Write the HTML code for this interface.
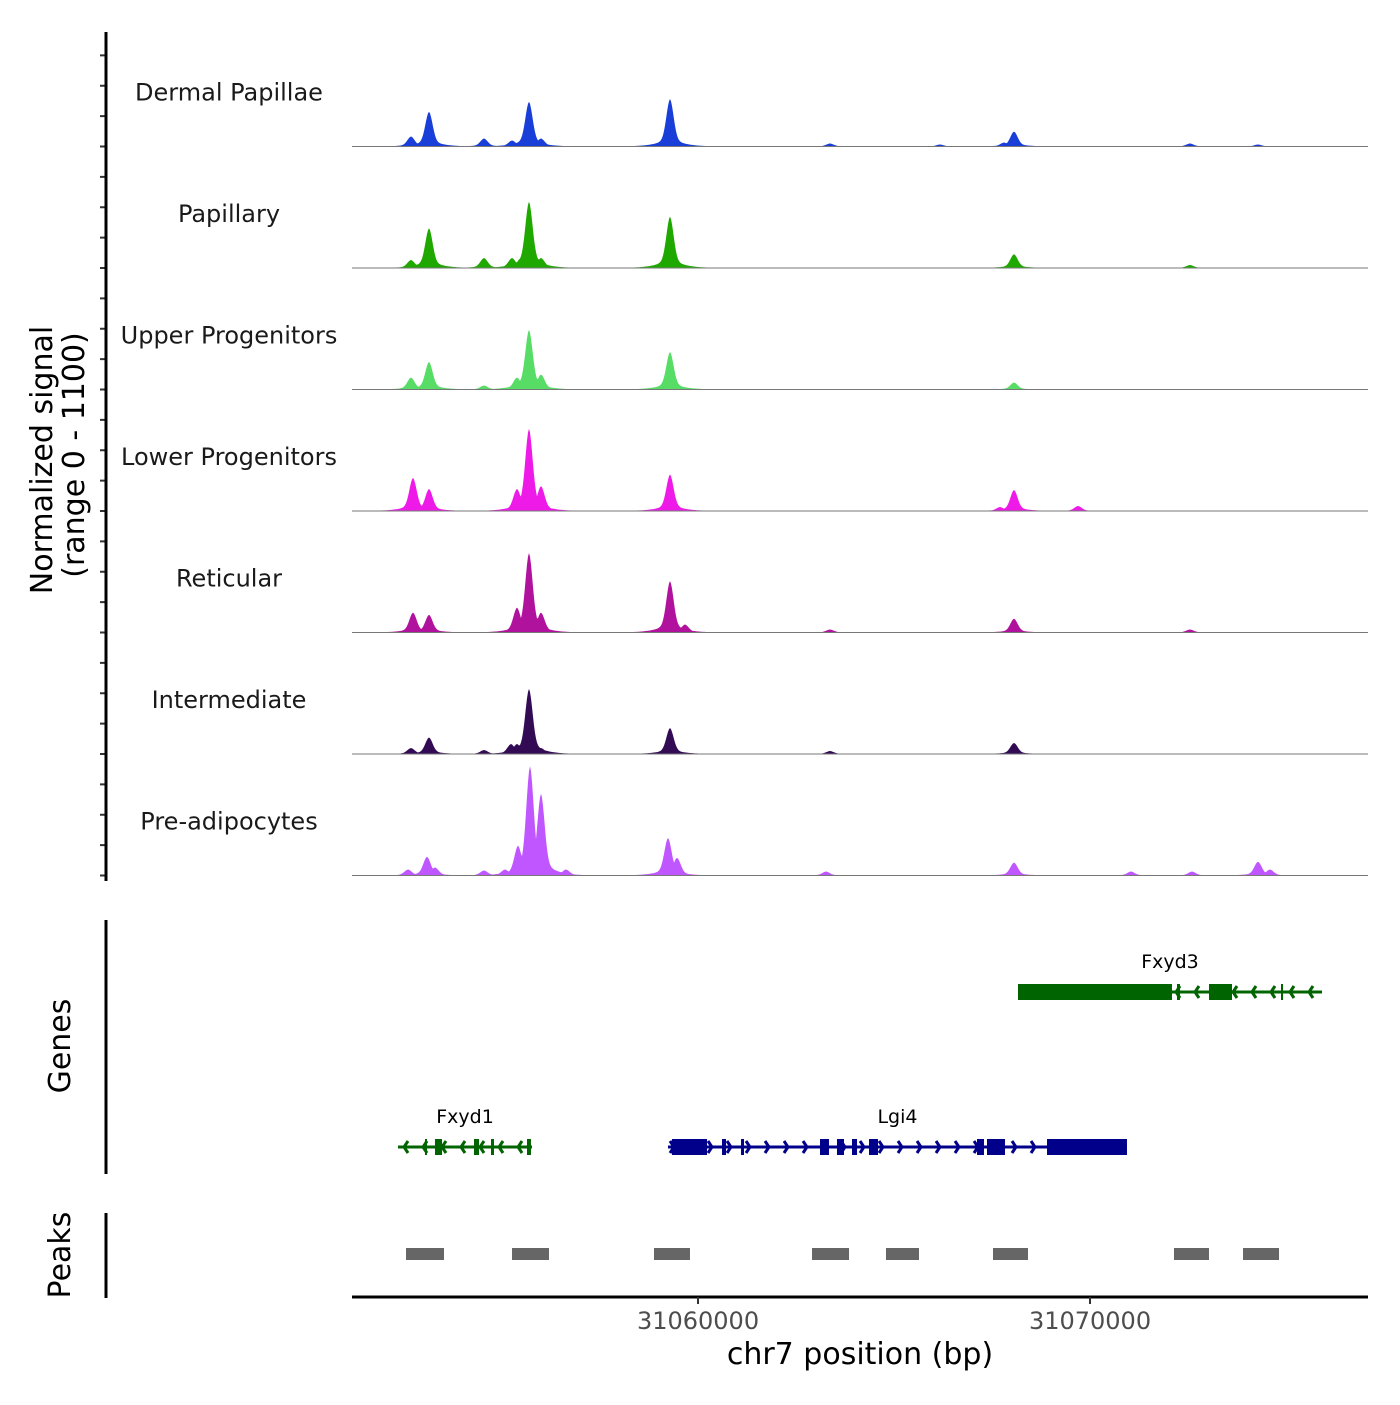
<!DOCTYPE html>
<html><head><meta charset="utf-8"><style>
body{margin:0;background:#fff}
svg text{font-family:"DejaVu Sans","Liberation Sans",sans-serif}
</style></head><body>
<svg id="c" width="1400" height="1400" xmlns="http://www.w3.org/2000/svg">
<rect width="1400" height="1400" fill="#fff"/>
<g id="tracks"></g>
<g id="genes"></g>
<g id="peaks"></g>
<g id="axes"></g>
</svg>
<script>
const trackNames=["Dermal Papillae","Papillary","Upper Progenitors","Lower Progenitors","Reticular","Intermediate","Pre-adipocytes"];
const trackColors=["#1a3fd8","#1fa800","#57dc66","#ee1ae8","#b0129e","#330b55","#c056ff"];
// peaks per track: [position bp, signal value]
const dpPeaks=[[31052678,90],[31053137,315],[31054540,72],[31055255,54],[31055688,405],[31055994,72],[31059285,430],[31063367,27],[31066172,18],[31067806,36],[31068061,135],[31072550,27],[31074285,18]];
const papPeaks=[[31052678,72],[31053137,360],[31054540,90],[31055255,90],[31055484,90],[31055688,600],[31055994,90],[31059285,465],[31068061,125],[31072550,27]];
const upPeaks=[[31052678,108],[31053137,250],[31054540,36],[31055382,108],[31055688,540],[31055994,135],[31059285,340],[31068061,63]];
const lowPeaks=[[31052729,300],[31053137,200],[31055382,200],[31055688,745],[31055994,225],[31059285,330],[31067703,36],[31068061,190],[31069693,45]];
const retPeaks=[[31052729,180],[31053137,160],[31055382,225],[31055688,720],[31055994,180],[31059285,465],[31059668,72],[31063367,27],[31068061,125],[31072550,27]];
const intPeaks=[[31052678,54],[31053137,150],[31054540,36],[31055229,90],[31055382,90],[31055688,590],[31055994,54],[31059285,235],[31063367,27],[31068061,100]];
const prePeaks=[[31052602,54],[31053086,170],[31053290,72],[31054540,45],[31055076,54],[31055408,270],[31055714,990],[31055994,740],[31056632,54],[31059234,340],[31059464,160],[31063265,36],[31068061,117],[31071045,36],[31072601,36],[31074285,125],[31074591,54]];
const allPeaks=[dpPeaks,papPeaks,upPeaks,lowPeaks,retPeaks,intPeaks,prePeaks];
const xTicks=[31060000,31070000];
const genes=[
 {name:"Fxyd1",strand:-1,start:31052347,end:31055765,row:1,color:"#006400",exons:[[31053035,31053086],[31053290,31053469],[31054285,31054413],[31054719,31054795],[31055637,31055739]]},
 {name:"Lgi4",strand:1,start:31059234,end:31070943,row:1,color:"#00008b",exons:[[31059336,31060229],[31060612,31060714],[31061097,31061173],[31063112,31063341],[31063545,31063724],[31063928,31064056],[31064362,31064591],[31067117,31067295],[31067372,31067831],[31068903,31070943]]},
 {name:"Fxyd3",strand:-1,start:31068163,end:31075918,row:0,color:"#006400",exons:[[31068163,31072091],[31072218,31072295],[31073035,31073622],[31074872,31074922]]}
];
const peakRegions=[[31052551,31053520],[31055255,31056198],[31058877,31059795],[31062908,31063852],[31064795,31065637],[31067525,31068418],[31072142,31073035],[31073903,31074821]];

const NS="http://www.w3.org/2000/svg";
const X0=352,X1=1368,BP0=31051173,PXBP=0.0392;
const sx=bp=>X0+(bp-BP0)*PXBP;
const TH=121.5, base0=146.5, YMAX=1100;
function mk(tag,attrs,parent,txt){const e=document.createElementNS(NS,tag);for(const k in attrs)e.setAttribute(k,attrs[k]);if(txt!==undefined)e.textContent=txt;parent.appendChild(e);return e;}
const tg=document.getElementById('tracks'),gg=document.getElementById('genes'),pg=document.getElementById('peaks'),ag=document.getElementById('axes');

allPeaks.forEach((pk,i)=>{
  const base=base0+i*TH;
  const g=mk('g',{},tg);
  
  
  const sy=v=>base-v/YMAX*TH;
  let d='M'+X0+','+base;
  for(let x=X0;x<=X1;x+=1){
    const bp=BP0+(x-X0)/PXBP;let v=0;
    pk.forEach(([p,h])=>{const dd=(bp-p)/130;const w=h*(0.78*Math.exp(-dd*dd)+0.22*Math.exp(-Math.abs(bp-p)/300));v=Math.max(v,w);});
    d+=' L'+x+','+sy(Math.min(v,YMAX)).toFixed(2);
  }
  d+=' L'+X1+','+base+' Z';
  const p=mk('path',{d:d,fill:trackColors[i],stroke:'none'},g);
  
  
  const l=mk('line',{x1:X0,x2:X1,y1:base,y2:base,stroke:'#777','stroke-width':1},g);
  
  
  const t=mk('text',{x:229,y:base-46,'text-anchor':'middle','font-size':24,fill:'#1a1a1a'},g,trackNames[i]);
  
  
  for(let k=0;k<4;k++){const y=base-k*TH/4;mk('line',{x1:100,x2:106,y1:y,y2:y,stroke:'#333','stroke-width':2},ag);}
});

// genes
const rowY=[992,1147];
genes.forEach(gn=>{
  const g=mk('g',{},gg);
  
  
  const y=rowY[gn.row],x1=sx(gn.start),x2=sx(gn.end);
  mk('line',{x1:x1,x2:x2,y1:y,y2:y,stroke:gn.color,'stroke-width':3},g);
  for(let x=x1+6;x<x2-2;x+=19){
    const a=gn.strand>0?x-4:x+4;
    mk('polyline',{points:`${a},${y-6} ${x},${y} ${a},${y+6}`,fill:'none',stroke:gn.color,'stroke-width':3},g);
  }
  gn.exons.forEach(([s,e])=>{const a=sx(s),b=sx(e);mk('rect',{x:a,y:y-8,width:Math.max(b-a,2),height:16,fill:gn.color},g);});
  const t=mk('text',{x:(x1+x2)/2,y:y-24,'text-anchor':'middle','font-size':19,fill:'#000'},g,gn.name);
  
  
});
peakRegions.forEach(([s,e])=>{
  const r=mk('rect',{x:sx(s),y:1248,width:sx(e)-sx(s),height:12,fill:'#666'},pg);
  
  
});

// axes
mk('line',{x1:106,x2:106,y1:32,y2:881,stroke:'#000','stroke-width':3},ag);
mk('line',{x1:106,x2:106,y1:920,y2:1174,stroke:'#000','stroke-width':3},ag);
mk('line',{x1:106,x2:106,y1:1213,y2:1298,stroke:'#000','stroke-width':3},ag);
mk('line',{x1:X0,x2:X1,y1:1297,y2:1297,stroke:'#000','stroke-width':3},ag);
xTicks.forEach(v=>{
  const x=sx(v);
  mk('line',{x1:x,x2:x,y1:1297,y2:1304,stroke:'#333','stroke-width':2},ag);
  const t=mk('text',{x:x,y:1329,'text-anchor':'middle','font-size':24,fill:'#4d4d4d'},ag,String(v));
  
  
});
const xt=mk('text',{x:860,y:1364,'text-anchor':'middle','font-size':30,fill:'#000'},ag,'chr7 position (bp)');


const yt=mk('text',{transform:'translate(52,460) rotate(-90)','text-anchor':'middle','font-size':30,fill:'#000'},ag,'Normalized signal');


const yt2=mk('text',{transform:'translate(84,455) rotate(-90)','text-anchor':'middle','font-size':30,fill:'#000'},ag,'(range 0 - 1100)');


const gt=mk('text',{transform:'translate(70,1046) rotate(-90)','text-anchor':'middle','font-size':30,fill:'#000'},ag,'Genes');


const pt=mk('text',{transform:'translate(70,1255) rotate(-90)','text-anchor':'middle','font-size':30,fill:'#000'},ag,'Peaks');


</script>
</body></html>
